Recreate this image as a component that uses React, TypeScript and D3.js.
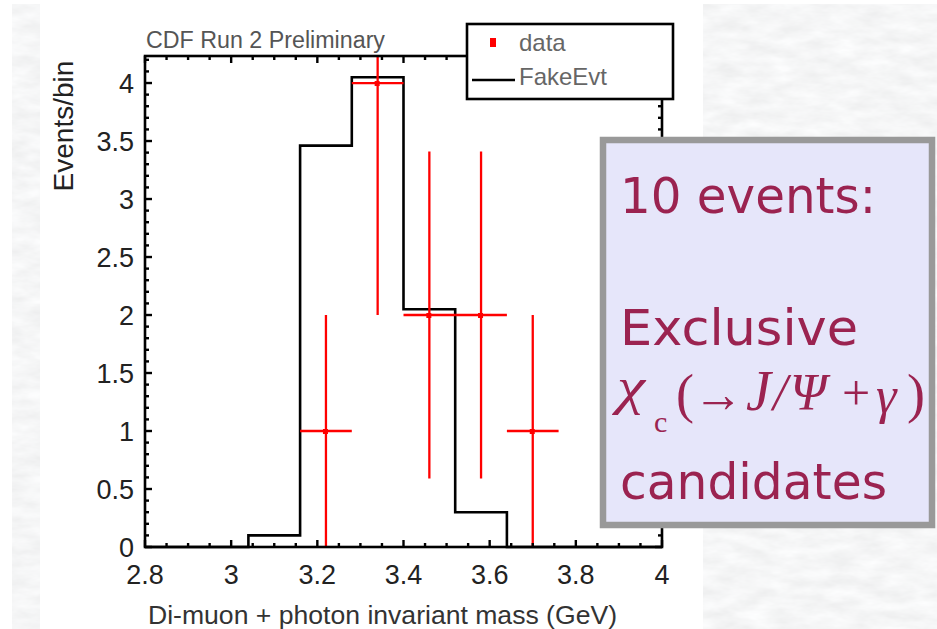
import React from "react";
import * as d3 from "d3";

// ---- data ----
const binEdges = [2.8, 2.92, 3.04, 3.16, 3.28, 3.4, 3.52, 3.64, 3.76, 3.88, 4.0];
const fakeEvt = [0, 0, 0.1, 3.46, 4.05, 2.05, 0.3, 0, 0, 0];

const dataX = [3.22, 3.34, 3.46, 3.58, 3.7];
const dataY = [1, 4, 2, 2, 1];
const dataXErr = [0.06, 0.06, 0.06, 0.06, 0.06];
const dataYErrLow = [1, 2, 1.41, 1.41, 1];
const dataYErrHigh = [1, 2, 1.41, 1.41, 1];

const xTickValues = [2.8, 3, 3.2, 3.4, 3.6, 3.8, 4];
const xTickLabels = ["2.8", "3", "3.2", "3.4", "3.6", "3.8", "4"];
const yTickValues = [0, 0.5, 1, 1.5, 2, 2.5, 3, 3.5, 4];
const yTickLabels = ["0", "0.5", "1", "1.5", "2", "2.5", "3", "3.5", "4"];

const titleText = "CDF Run 2 Preliminary";
const xAxisTitle = "Di-muon + photon invariant mass (GeV)";
const yAxisTitle = "Events/bin";
const legendLabels = ["data", "FakeEvt"];
const boxLines = ["10 events:", "Exclusive", "candidates"];

const W = 937;
const H = 629;
const plot = { left: 145, right: 662, top: 56, bottom: 547 };

export default function App() {
  const x = d3.scaleLinear().domain([2.8, 4.0]).range([plot.left, plot.right]);
  const y = d3.scaleLinear().domain([0, 4.233]).range([plot.bottom, plot.top]);

  const pts: [number, number][] = [[binEdges[0], 0]];
  fakeEvt.forEach((v, i) => pts.push([binEdges[i], v]));
  pts.push([binEdges[binEdges.length - 1], fakeEvt[fakeEvt.length - 1]]);
  pts.push([binEdges[binEdges.length - 1], 0]);
  const histPath = d3
    .line<[number, number]>()
    .x((d) => x(d[0]))
    .y((d) => y(d[1]))
    .curve(d3.curveStepAfter)(pts) as string;

  const xMinor = d3.range(0, 25).map((i) => 2.8 + i * 0.05);
  const yMinor = d3.range(0, 43).map((i) => i * 0.1).filter((v) => v <= 4.23);
  const isMajorX = (v: number) => Math.abs(v * 5 - Math.round(v * 5)) < 1e-6;
  const isMajorY = (v: number) => Math.abs(v * 2 - Math.round(v * 2)) < 1e-6;

  const red = "#ff0000";
  const maroon = "#9b2350";
  const sans = "'Liberation Sans', Arial, Helvetica, sans-serif";
  const serif = "'Liberation Serif', 'Times New Roman', serif";

  return (
    <svg
      width={W}
      height={H}
      viewBox={`0 0 ${W} ${H}`}
      style={{ position: "absolute", left: 0, top: 0, display: "block" }}
    >
      <defs>
        <filter id="marble" x="0" y="0" width="100%" height="100%">
          <feTurbulence type="fractalNoise" baseFrequency="0.035 0.09" numOctaves="4" seed="7" result="n" />
          <feColorMatrix
            in="n"
            type="matrix"
            values="0.18 0 0 0 0.825  0.18 0 0 0 0.83  0.18 0 0 0 0.835  0 0 0 0 1"
          />
        </filter>
        <clipPath id="plotClip">
          <rect x={plot.left} y={plot.top} width={plot.right - plot.left} height={plot.bottom - plot.top} />
        </clipPath>
      </defs>

      {/* background */}
      <rect x={0} y={0} width={W} height={H} fill="#ffffff" />
      <rect x={12} y={4} width={W - 12} height={H - 4} fill="#e8e8e8" filter="url(#marble)" />
      <rect x={40} y={0} width={663} height={H} fill="#ffffff" />

      {/* title */}
      <text x={146} y={48} fontFamily={sans} fontSize={23.5} fill="#555" textLength={239} lengthAdjust="spacingAndGlyphs">
        {titleText}
      </text>

      {/* histogram */}
      <path d={histPath} fill="none" stroke="#000" strokeWidth={2.6} />

      {/* data with error bars */}
      <g clipPath="url(#plotClip)">
        {dataX.map((dx, i) => (
          <g key={i}>
            <line
              x1={x(dx)}
              x2={x(dx)}
              y1={y(dataY[i] - dataYErrLow[i])}
              y2={y(dataY[i] + dataYErrHigh[i])}
              stroke={red}
              strokeWidth={2.3}
            />
            <line
              x1={x(dx - dataXErr[i])}
              x2={x(dx + dataXErr[i])}
              y1={y(dataY[i])}
              y2={y(dataY[i])}
              stroke={red}
              strokeWidth={2.3}
            />
            <rect x={x(dx) - 3} y={y(dataY[i]) - 2} width={5} height={5} fill={red} />
          </g>
        ))}
      </g>

      {/* frame */}
      <rect
        x={plot.left}
        y={plot.top}
        width={plot.right - plot.left}
        height={plot.bottom - plot.top}
        fill="none"
        stroke="#000"
        strokeWidth={2.6}
      />
      {/* x ticks bottom & top */}
      {xMinor.map((v, i) => {
        const len = isMajorX(v) ? 7 : 4;
        return (
          <g key={"xt" + i}>
            <line x1={x(v)} x2={x(v)} y1={plot.bottom} y2={plot.bottom - len} stroke="#000" strokeWidth={2.4} />
            <line x1={x(v)} x2={x(v)} y1={plot.top} y2={plot.top + len} stroke="#000" strokeWidth={2.4} />
          </g>
        );
      })}
      {/* y ticks left & right */}
      {yMinor.map((v, i) => {
        const len = isMajorY(v) ? 7 : 4;
        return (
          <g key={"yt" + i}>
            <line x1={plot.left} x2={plot.left + len} y1={y(v)} y2={y(v)} stroke="#000" strokeWidth={2.4} />
            <line x1={plot.right} x2={plot.right - len} y1={y(v)} y2={y(v)} stroke="#000" strokeWidth={2.4} />
          </g>
        );
      })}

      {/* tick labels */}
      {xTickValues.map((v, i) => (
        <text key={"xl" + i} x={x(v)} y={584} textAnchor="middle" fontFamily={sans} fontSize={27} fill="#222">
          {xTickLabels[i]}
        </text>
      ))}
      {yTickValues.map((v, i) => (
        <text key={"yl" + i} x={134} y={y(v)} dy="0.36em" textAnchor="end" fontFamily={sans} fontSize={27} fill="#222">
          {yTickLabels[i]}
        </text>
      ))}

      {/* axis titles */}
      <text x={148} y={624} fontFamily={sans} fontSize={26.5} fill="#333" textLength={469} lengthAdjust="spacingAndGlyphs">
        {xAxisTitle}
      </text>
      <text
        transform="translate(73,126) rotate(-90)"
        textAnchor="middle"
        fontFamily={sans}
        fontSize={28}
        fill="#222"
      >
        {yAxisTitle}
      </text>

      {/* legend */}
      <rect x={467} y={24} width={206} height={75} fill="#fff" stroke="#000" strokeWidth={2.6} />
      <rect x={490} y={38} width={6} height={9} fill={red} />
      <line x1={472} x2={515} y1={80} y2={80} stroke="#000" strokeWidth={2.6} />
      <text x={519} y={51} fontFamily={sans} fontSize={24} fill="#666">
        {legendLabels[0]}
      </text>
      <text x={519} y={85} fontFamily={sans} fontSize={24} fill="#666">
        {legendLabels[1]}
      </text>

      {/* annotation box */}
      <rect x={603} y={140} width={329} height={385} fill="#e6e6fa" stroke="#999999" strokeWidth={6.5} />
      <g fontFamily="'DejaVu Sans', Verdana, sans-serif" fontSize={50} fill={maroon}>
        <text x={620} y={213} textLength={256} lengthAdjust="spacingAndGlyphs">{boxLines[0]}</text>
        <text x={620} y={345} textLength={238} lengthAdjust="spacingAndGlyphs">{boxLines[1]}</text>
        <text x={620} y={499} textLength={267} lengthAdjust="spacingAndGlyphs">{boxLines[2]}</text>
      </g>
      <g fontFamily={serif} fill={maroon}>
        <text x={617} y={404} fontSize={52} fontStyle="italic" textLength={28} lengthAdjust="spacingAndGlyphs">χ</text>
        <text x={654} y={432} fontSize={30}>c</text>
        <text x={676} y={412} fontSize={54}>(</text>
        <text x={693} y={412} fontSize={52} textLength={50} lengthAdjust="spacingAndGlyphs">→</text>
        <text x={746} y={410} fontSize={56} fontStyle="italic">J</text>
        <text x={773} y={410} fontSize={52} fontStyle="italic">/</text>
        <text x={790} y={410} fontSize={52} fontStyle="italic">Ψ</text>
        <text x={842} y={410} fontSize={50}>+</text>
        <text x={876} y={413} fontSize={52} fontStyle="italic">γ</text>
        <text x={907} y={412} fontSize={54}>)</text>
      </g>
    </svg>
  );
}
